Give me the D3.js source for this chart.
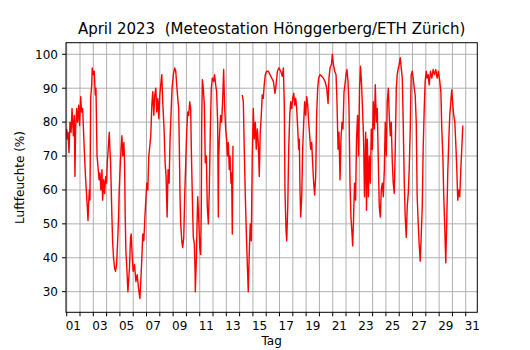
<!DOCTYPE html>
<html>
<head>
<meta charset="utf-8">
<script src="https://cdn.jsdelivr.net/npm/d3@7"></script>
<style>
    body { margin: 0; background: #fff; }
    text { font-family: "DejaVu Sans", sans-serif; fill: #000; }
</style>
</head>
<body>
<div id="chart"></div>
<script>
// Zeitpunkte (Tag im Monat, Bruchteil = Tageszeit), null = Messlücke
var tage = [
    1.00, 1.02, 1.10, 1.17, 1.25, 1.33, 1.40, 1.50, 1.57, 1.62, 1.67, 1.75, 1.82, 1.90, 1.97,
    2.05, 2.12, 2.20, 2.25, 2.32, 2.40, 2.47, 2.55, 2.60, 2.65, 2.70, 2.75, 2.80, 2.88, 2.92,
    3.00, 3.07, 3.15, 3.20, 3.28, 3.35, 3.43, 3.50, 3.57, 3.65, 3.70, 3.78, 3.85, 3.93,
    4.00, 4.05, 4.12, 4.20, 4.25, 4.30, 4.35, 4.40, 4.45, 4.52, 4.60, 4.67, 4.75, 4.82, 4.90, 4.95,
    5.02, 5.10, 5.15, 5.22, 5.30, 5.35, 5.40, 5.45, 5.52, 5.60, 5.65, 5.72, 5.80, 5.85, 5.93,
    6.00, 6.10, 6.20, 6.30, 6.40, 6.50, 6.57, 6.65, 6.72, 6.80, 6.88, 6.95,
    7.02, 7.10, 7.17, 7.25, 7.32, 7.40, 7.47, 7.55, 7.62, 7.70, 7.77, 7.85, 7.93,
    8.00, 8.07, 8.15, 8.22, 8.32, 8.40, 8.47, 8.55, 8.62, 8.70, 8.77, 8.85, 8.92,
    9.02, 9.12, 9.20, 9.27, 9.35, 9.42, 9.47, 9.52, 9.57, 9.65, 9.72, 9.80, 9.87, 9.95,
    10.02, 10.10, 10.17, 10.25, 10.32, 10.37, 10.45, 10.52, 10.60, 10.65, 10.67, 10.75, 10.80, 10.85, 10.92,
    11.00, 11.07, 11.12, 11.15, 11.20, 11.27, 11.35, 11.42, 11.50, 11.57, 11.65, 11.72, 11.80, 11.87, 11.95,
    12.05, 12.12, 12.20, 12.27, 12.35, 12.40, 12.43, 12.50, 12.57, 12.65, 12.72, 12.80, 12.87, 12.95,
    13.02, 13.08, 13.15, 13.22, 13.28, 13.35, 13.40, 13.45, 13.50, 13.85,
    14.20, 14.28, 14.35, 14.43, 14.50, 14.58, 14.65, 14.73, 14.80, 14.88, 14.95,
    15.03, 15.10, 15.18, 15.25, 15.33, 15.40, 15.48, 15.55, 15.63, 15.70, 15.78, 15.85, 15.93,
    16.03, 16.16, 16.29, 16.41, 16.54, 16.66, 16.74, 16.84, 16.96,
    17.09, 17.21, 17.29, 17.36, 17.41, 17.49, 17.54, 17.62, 17.69, 17.77, 17.84, 17.92, 17.99,
    18.07, 18.14, 18.22, 18.29, 18.37, 18.44, 18.49, 18.54, 18.59, 18.67, 18.74, 18.82, 18.89, 18.97,
    19.04, 19.12, 19.19, 19.27, 19.34, 19.42, 19.49, 19.57, 19.64, 19.72, 19.79, 19.87, 19.94,
    20.05, 20.17, 20.29, 20.42, 20.55, 20.65, 20.72, 20.80, 20.90, 20.97,
    21.05, 21.15, 21.25, 21.32, 21.40, 21.47, 21.55, 21.62, 21.70, 21.77, 21.85, 21.92,
    22.00, 22.07, 22.15, 22.22, 22.30, 22.37, 22.45, 22.50, 22.57, 22.64, 22.72, 22.79, 22.87, 22.94,
    23.02, 23.09, 23.17, 23.24, 23.32, 23.39, 23.48, 23.54, 23.60, 23.68, 23.75, 23.83, 23.90, 23.98,
    24.05, 24.13, 24.20, 24.28, 24.35, 24.43, 24.50, 24.58, 24.65, 24.73, 24.80, 24.88, 24.95,
    25.03, 25.10, 25.18, 25.25, 25.33, 25.40, 25.48, 25.55, 25.63, 25.70, 25.78, 25.85, 25.93,
    26.00, 26.08, 26.15, 26.23, 26.30, 26.38, 26.45, 26.53, 26.60, 26.68, 26.75, 26.83, 26.90, 26.98,
    27.05, 27.13, 27.20, 27.28, 27.35, 27.43, 27.50, 27.58, 27.65, 27.73, 27.80, 27.88, 27.95,
    28.03, 28.10, 28.18, 28.25, 28.35, 28.45, 28.55, 28.65, 28.75, 28.85, 28.95,
    29.05, 29.13, 29.20, 29.28, 29.35, 29.43, 29.50, 29.58, 29.65, 29.73, 29.80, 29.88, 29.95,
    30.03, 30.10, 30.18, 30.25, 30.33, 30.40, 30.48, 30.55, 30.63, 30.70, 30.78
];

// relative Luftfeuchte in %
var feuchte = [
    78, 75, 77, 71, 80, 77, 84, 76, 82, 64, 78, 84, 80, 85, 79,
    87.5, 83, 84, 79, 72, 65, 60, 55, 51, 56, 60, 57, 87, 91, 96,
    94, 95, 88, 90, 70, 67, 63, 65, 60, 66, 57, 63, 59, 64,
    62, 68, 72, 77, 72, 68, 60, 52, 45, 40, 37, 36, 38, 44, 52, 60,
    67, 73, 76, 70, 74, 68, 52, 42, 37, 30, 33, 37, 46, 47, 40,
    36, 38, 33, 35, 31, 28, 33, 40, 47, 45, 52, 57,
    62, 60, 70, 73, 76, 85, 89, 82, 88, 90, 83, 87, 81,
    88, 91, 94, 86, 78, 68, 64, 52, 66, 62, 75, 83, 90,
    94, 96, 95, 91, 87, 84, 72, 58, 50, 45, 43, 46, 58, 68,
    77, 83, 82, 86, 84, 72, 57, 46, 44, 36, 30, 40, 50, 58, 52,
    43, 41, 55, 80, 92.5, 90, 85, 68, 70, 55, 50, 60, 78, 90, 93,
    92, 94, 91, 89, 80, 52, 70, 77, 82, 80, 86, 95.5, 85, 78,
    75, 70, 74, 66, 70, 62, 65, 47, 73, null,
    88, 86, 72, 58, 48, 38, 30, 42, 50, 45, 70,
    84, 75, 80, 72, 78, 74, 64, 77, 82, 88, 87, 91, 94,
    95, 95, 94, 93, 92, 88.5, 91, 95, 96,
    95, 93.5, 96, 85, 60, 48, 45, 55, 72, 82, 86, 84, 87,
    88.5, 85, 87, 84, 78, 72, 75, 60, 52, 58, 72, 80, 86, 82,
    87.5, 85, 80, 76, 72, 74, 68, 62, 58.5, 64, 82, 90, 93,
    94, 93.5, 93, 92, 90, 85.5, 93, 96, 97, 100,
    97, 95, 94, 86, 72, 77, 63, 75, 80, 78, 89, 91,
    94, 95.5, 92, 85, 62, 52, 47, 43.5, 52, 62, 57, 75, 82, 70,
    90, 96.5, 91, 84, 75, 58, 77, 54, 75, 58, 70, 62, 78, 72,
    86, 78, 91, 80, 84, 68, 55, 52, 60, 62, 58, 66, 80,
    70, 86, 90, 82, 76, 80, 68, 62, 59, 72, 90, 94, 96,
    97, 99, 96, 93, 80, 62, 52, 46, 55, 59, 66, 78, 94, 95,
    93, 90, 88, 80, 58, 50, 44, 39, 46, 55, 72, 84, 92,
    95, 93, 94, 91, 95, 93, 95.5, 94, 95.5, 93, 95,
    92, 89, 78, 70, 58, 48, 38.5, 52, 65, 75, 82, 86, 89.5,
    85, 82, 80, 74, 66, 57, 60, 58, 66, 72, 79
];

var yTicks = [30, 40, 50, 60, 70, 80, 90, 100];
var xTickTage = d3.range(1, 32);
var xLabels = ["01", "03", "05", "07", "09", "11", "13", "15", "17", "19", "21", "23", "25", "27", "29", "31"];

var width = 530, height = 350;
var plot = { left: 66, right: 477.3, top: 42.7, bottom: 312.3 };

var svg = d3.select("#chart")
    .append("svg")
    .attr("width", width)
    .attr("height", height);

svg.append("rect")
    .attr("width", width)
    .attr("height", height)
    .attr("fill", "#fff");

var x = d3.scaleLinear()
    .domain([0.947, 31.87])
    .range([plot.left, plot.right]);

var y = d3.scaleLinear()
    .domain([23.92, 103.42])
    .range([plot.bottom, plot.top]);

// Gitter
svg.append("g")
    .selectAll("line.vgrid")
    .data(xTickTage)
    .enter()
    .append("line")
    .attr("class", "vgrid")
    .attr("x1", function (d) { return x(d); })
    .attr("x2", function (d) { return x(d); })
    .attr("y1", plot.top)
    .attr("y2", plot.bottom)
    .attr("stroke", "#b0b0b0")
    .attr("stroke-width", 1);

svg.append("g")
    .selectAll("line.hgrid")
    .data(yTicks)
    .enter()
    .append("line")
    .attr("class", "hgrid")
    .attr("x1", plot.left)
    .attr("x2", plot.right)
    .attr("y1", function (d) { return y(d); })
    .attr("y2", function (d) { return y(d); })
    .attr("stroke", "#b0b0b0")
    .attr("stroke-width", 1);

// Messreihe
var punkte = tage.map(function (t, i) { return [t, feuchte[i]]; });

var line = d3.line()
    .defined(function (d) { return d[1] != null; })
    .x(function (d) { return x(d[0]); })
    .y(function (d) { return y(d[1]); });

svg.append("path")
    .datum(punkte)
    .attr("d", line)
    .attr("fill", "none")
    .attr("stroke", "#ff0000")
    .attr("stroke-width", 1.4)
    .attr("stroke-linejoin", "round");

// Rahmen
svg.append("rect")
    .attr("x", plot.left)
    .attr("y", plot.top)
    .attr("width", plot.right - plot.left)
    .attr("height", plot.bottom - plot.top)
    .attr("fill", "none")
    .attr("stroke", "#000")
    .attr("stroke-width", 1);

// y-Achse
var yAxis = svg.append("g");
yAxis.selectAll("line")
    .data(yTicks)
    .enter()
    .append("line")
    .attr("x1", plot.left - 4)
    .attr("x2", plot.left)
    .attr("y1", function (d) { return y(d); })
    .attr("y2", function (d) { return y(d); })
    .attr("stroke", "#000");

yAxis.selectAll("text")
    .data(yTicks)
    .enter()
    .append("text")
    .text(function (d) { return d; })
    .attr("x", plot.left - 8)
    .attr("y", function (d) { return y(d); })
    .attr("dy", "0.36em")
    .attr("text-anchor", "end")
    .style("font-size", "12px");

// x-Achse: Striche um Mitternacht, Beschriftung am Mittag
var xAxis = svg.append("g");
xAxis.selectAll("line")
    .data(xTickTage)
    .enter()
    .append("line")
    .attr("x1", function (d) { return x(d); })
    .attr("x2", function (d) { return x(d); })
    .attr("y1", plot.bottom)
    .attr("y2", plot.bottom + 4)
    .attr("stroke", "#000");

xAxis.selectAll("text")
    .data(xLabels)
    .enter()
    .append("text")
    .text(function (d) { return d; })
    .attr("x", function (d) { return x(+d + 0.5); })
    .attr("y", plot.bottom + 18)
    .attr("text-anchor", "middle")
    .style("font-size", "12px");

// Titel und Achsentitel
svg.append("text")
    .text("April 2023  (Meteostation Hönggerberg/ETH Zürich)")
    .attr("x", (plot.left + plot.right) / 2)
    .attr("y", 34)
    .attr("text-anchor", "middle")
    .style("white-space", "pre")
    .style("font-size", "15px");

svg.append("text")
    .text("Tag")
    .attr("x", (plot.left + plot.right) / 2)
    .attr("y", 345)
    .attr("text-anchor", "middle")
    .style("font-size", "12px");

svg.append("text")
    .text("Luftfeuchte (%)")
    .attr("transform", "translate(24," + ((plot.top + plot.bottom) / 2) + ") rotate(-90)")
    .attr("text-anchor", "middle")
    .style("font-size", "12px");
</script>
</body>
</html>
